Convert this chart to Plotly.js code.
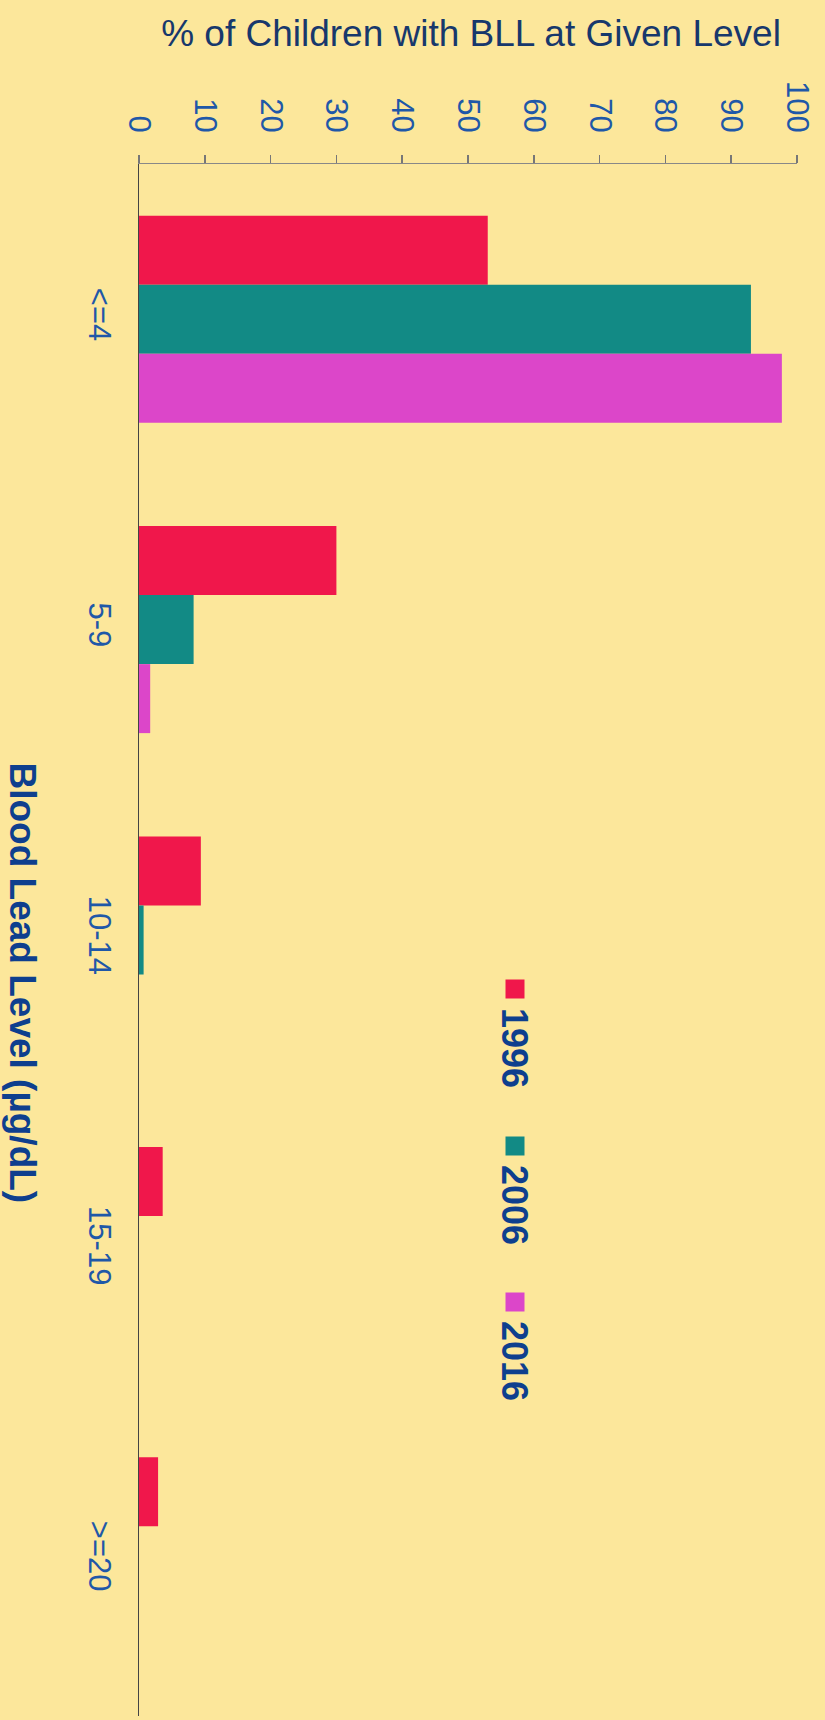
<!DOCTYPE html>
<html>
<head>
<meta charset="utf-8">
<script src="https://cdn.plot.ly/plotly-3.0.1.min.js"></script>
<style>
html,body{margin:0;padding:0;background:#fce79b;}
#chart{width:825px;height:1720px;}
</style>
</head>
<body>
<div id="chart"></div>
<script>
// ---- data ----
const categories = ['<=4', '5-9', '10-14', '15-19', '>=20'];
const years = ['1996', '2006', '2016'];
const values1996 = [53, 30, 9.4, 3.6, 2.9];
const values2006 = [93, 8.3, 0.7, 0, 0];
const values2016 = [97.7, 1.7, 0, 0, 0];
const xTickVals = [0, 10, 20, 30, 40, 50, 60, 70, 80, 90, 100];

const titleText = '% of Children with BLL at Given Level';
const yTitleText = 'Blood Lead Level (µg/dL)';

// ---- styles ----
const colors = ['#f0174b', '#128a85', '#dc46c9'];
const bg = '#fce79b';
const W = 825, H = 1720;
const M = {l: 139, r: 28, t: 164, b: 4};
const PW = W - M.l - M.r, PH = H - M.t - M.b;
const px2x = p => (p - M.l) / PW;
const px2y = p => 1 - (p - M.t) / PH;

const series = [values1996, values2006, values2016];
const traces = series.map((vals, i) => ({
  type: 'bar',
  orientation: 'h',
  name: years[i],
  y: categories,
  x: vals,
  marker: {color: colors[i], line: {width: 0}},
  showlegend: false,
  hoverinfo: 'x+y+name'
}));

// legend drawn rotated (squares + rotated labels)
const legendY = [989, 1146, 1302];
const legendX = 515;
const shapes = years.map((y, i) => ({
  type: 'rect', xref: 'paper', yref: 'paper',
  x0: px2x(legendX - 9.5), x1: px2x(legendX + 9.5),
  y0: px2y(legendY[i] - 9.5), y1: px2y(legendY[i] + 9.5),
  fillcolor: colors[i], line: {width: 0}
}));
const annotations = years.map((y, i) => ({
  xref: 'paper', yref: 'paper',
  x: px2x(legendX), y: px2y(legendY[i] + 17),
  xanchor: 'center', yanchor: 'top',
  text: '<b>' + y + '</b>', textangle: 90, showarrow: false,
  font: {family: 'Liberation Sans, Arial, sans-serif', size: 36, color: '#0e3f8e'}
}));
annotations.push({
  xref: 'paper', yref: 'paper',
  x: px2x(22), y: px2y(760),
  xanchor: 'center', yanchor: 'top',
  text: '<b>' + yTitleText + '</b>', textangle: 90, showarrow: false,
  font: {family: 'Liberation Sans, Arial, sans-serif', size: 37, color: '#0e3f8e'}
});

const layout = {
  width: W, height: H,
  paper_bgcolor: bg, plot_bgcolor: bg,
  margin: M,
  title: {
    text: titleText,
    xref: 'container', yref: 'container',
    x: 471 / W, y: 1 - 33 / H,
    xanchor: 'center', yanchor: 'middle',
    font: {family: 'Liberation Sans, Arial, sans-serif', size: 37, color: '#17386c'}
  },
  barmode: 'group', bargap: 0.333, bargroupgap: 0,
  xaxis: {
    side: 'top', range: [0, 100], tickvals: xTickVals,
    ticks: 'outside', ticklen: 8, tickwidth: 1.5, tickcolor: '#777',
    showline: true, linecolor: '#888', linewidth: 1.5,
    showgrid: false, zeroline: false, tickangle: 90,
    ticklabelstandoff: 11,
    tickfont: {family: 'Liberation Sans, Arial, sans-serif', size: 31, color: '#1f58a8'}
  },
  yaxis: {
    type: 'category', autorange: 'reversed',
    showline: true, linecolor: '#444', linewidth: 1.5,
    ticks: '', showgrid: false, zeroline: false, tickangle: 90,
    ticklabelstandoff: 11,
    tickfont: {family: 'Liberation Sans, Arial, sans-serif', size: 31, color: '#1f58a8'}
  },
  shapes: shapes,
  annotations: annotations
};

Plotly.newPlot('chart', traces, layout, {displayModeBar: false, staticPlot: true});
</script>
</body>
</html>
